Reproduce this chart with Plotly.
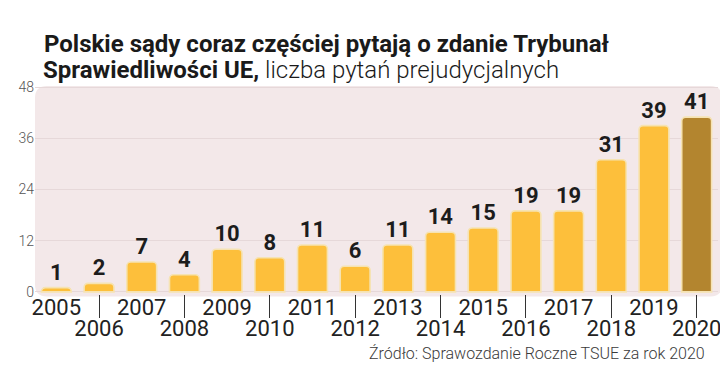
import plotly.graph_objects as go

years = list(range(2005, 2021))
values = [1, 2, 7, 4, 10, 8, 11, 6, 11, 14, 15, 19, 19, 31, 39, 41]
y_ticks = [0, 12, 24, 36, 48]
odd_years = [y for y in years if y % 2 == 1]
even_years = [y for y in years if y % 2 == 0]

bar_colors = ["#FDBF3B"] * (len(years) - 1) + ["#B3852F"]

L, R, T, B = 35, 2, 86, 81
W, H = 720 - L - R, 375 - T - B

fig = go.Figure()
fig.add_trace(go.Bar(
    x=years, y=values,
    marker=dict(color=bar_colors, line=dict(color="#F6E3B2", width=1.6), cornerradius=4),
    width=0.7,
    text=[str(v) for v in values], textposition="outside",
    textfont=dict(family="Roboto", size=22, color="#1c1c1c", weight="bold"),
    cliponaxis=False, hoverinfo="skip",
))
fig.add_trace(go.Scatter(x=[years[0]], y=[0], xaxis="x2", mode="markers",
                         marker=dict(opacity=0), hoverinfo="skip", showlegend=False))

# rounded background panel
rx, ry = 12 / W, 12 / H
x0, x1, y0, y1 = 0.0, 1.006, -0.012, 1.0
path = (f"M {x0+rx},{y0} L {x1-rx},{y0} Q {x1},{y0} {x1},{y0+ry} "
        f"L {x1},{y1-ry} Q {x1},{y1} {x1-rx},{y1} L {x0+rx},{y1} Q {x0},{y1} {x0},{y1-ry} "
        f"L {x0},{y0+ry} Q {x0},{y0} {x0+rx},{y0} Z")

fig.update_layout(
    width=720, height=375,
    margin=dict(l=L, r=R, t=T, b=B, autoexpand=False),
    paper_bgcolor="white", plot_bgcolor="rgba(0,0,0,0)",
    showlegend=False,
    shapes=[dict(type="path", path=path, xref="paper", yref="paper",
                 fillcolor="#F3E8E9", line=dict(width=0), layer="below")],
    title=dict(
        text="<b>Polskie sądy coraz częściej pytają o zdanie Trybunał</b>",
        x=44 / 720, xanchor="left", xref="container",
        y=1 - 44 / 375, yanchor="middle", yref="container",
        font=dict(family="Roboto", size=24, color="#1a1a1a"),
    ),
    xaxis=dict(range=[2004.5, 2020.5], tickvals=odd_years, ticktext=[str(y) for y in odd_years],
               ticks="", showgrid=False, zeroline=False, showline=False, automargin=False,
               ticklabeloverflow="allow",
               tickfont=dict(family="Roboto", size=22, color="#222"), ticklabelstandoff=-2),
    xaxis2=dict(range=[2004.5, 2020.5], overlaying="x", side="bottom", anchor="y",
                tickvals=even_years, ticktext=[str(y) for y in even_years],
                ticks="outside", ticklen=23, tickcolor="#333", tickwidth=1, automargin=False,
                showgrid=False, zeroline=False, showline=False, ticklabeloverflow="allow",
                tickfont=dict(family="Roboto", size=22, color="#222"), ticklabelstandoff=-8),
    yaxis=dict(range=[-0.5, 48.3], tickvals=y_ticks, showgrid=True, gridcolor="#E6D8D9",
               gridwidth=1, zeroline=False, showline=False, automargin=False,
               tickfont=dict(family="Roboto", size=14, color="#555", weight=300)),
    annotations=[
        dict(text="<b>Sprawiedliwości UE,</b><span style='font-weight:300'> liczba pytań prejudycjalnych</span>",
             xref="paper", yref="paper", x=(41 - L) / W, y=(T + H - 70) / H,
             xanchor="left", yanchor="middle", showarrow=False,
             font=dict(family="Roboto", size=24, color="#1a1a1a")),
        dict(text="Źródło: Sprawozdanie Roczne TSUE za rok 2020",
             xref="paper", yref="paper", x=(707 - L) / W, y=-(353 - (T + H)) / H,
             xanchor="right", yanchor="middle", showarrow=False,
             font=dict(family="Roboto", size=16, color="#3a3a3a", weight=300)),
    ],
)

fig.write_html("out.html", config={"displayModeBar": False},
               post_script="document.body.style.margin='0';")
